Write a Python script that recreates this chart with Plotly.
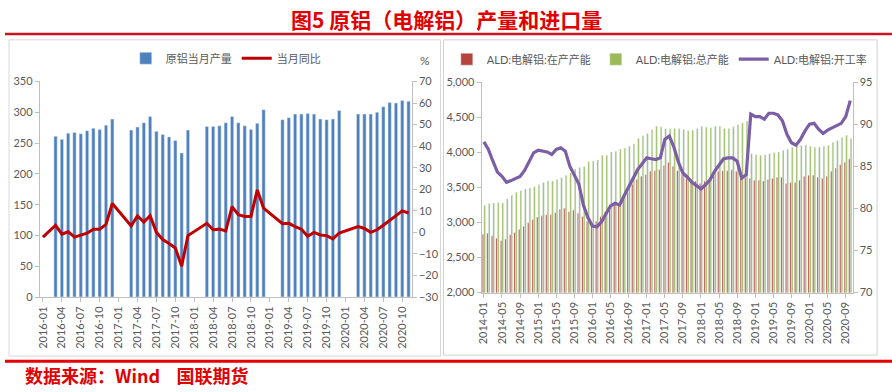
import plotly.graph_objects as go

# ---------------- data: left panel (monthly primary aluminium output) ----------------
left_months = [f"{y}-{m:02d}" for y in range(2016, 2021) for m in range(1, 13)][:59]

prod = [
    None, None, 261, 256, 266, 267, 265, 270, 274, 272, 279, 289,   # 2016
    None, None, 271, 276, 283, 293, 269, 264, 260, 254, 234, 271,   # 2017
    None, None, 277, 277, 278, 283, 293, 283, 278, 272, 282, 304,   # 2018
    None, None, 288, 291, 297, 297, 298, 297, 289, 288, 289, 303,   # 2019
    None, None, 297, 297, 297, 300, 309, 316, 315, 319, 318,        # 2020
]
yoy = [
    -2.2, None, 3.3, -0.8, 0.3, -2.2, -1.2, -0.4, 1.5, 1.5, 3.7, 13.4,
    None, None, 3.0, 7.7, 4.8, 7.7, 0.0, -3.3, -5.2, -7.2, -15.7, -1.5,
    None, None, 4.2, 1.2, 1.5, 0.7, 11.9, 8.2, 7.4, 7.4, 19.7, 11.2,
    None, None, 4.0, 4.2, 2.7, 1.5, -1.8, 0.0, -1.2, -1.5, -3.0, -0.3,
    None, None, 2.7, 1.8, 0.0, 1.2, 3.3, 5.6, 7.7, 10.0, 9.0,
]

# ---------------- data: right panel (ALD capacity & operating rate) ----------------
right_months = [f"{y}-{m:02d}" for y in range(2014, 2021) for m in range(1, 13)][:82]

cap_op = [
    2832, 2845, 2808, 2772, 2739, 2762, 2822, 2855, 2900, 2946, 2993, 3038,
    3075, 3094, 3107, 3107, 3139, 3186, 3200, 3153, 3176, 3131, 3084, 3015,
    2983, 3015, 3084, 3153, 3200, 3245, 3269, 3337, 3429, 3544, 3613, 3659,
    3682, 3728, 3737, 3751, 3811, 3856, 3797, 3737, 3682, 3627, 3613, 3590,
    3553, 3590, 3613, 3682, 3728, 3737, 3737, 3751, 3728, 3705, 3645, 3627,
    3600, 3600, 3590, 3613, 3627, 3645, 3645, 3553, 3567, 3567, 3600, 3659,
    3673, 3673, 3645, 3627, 3659, 3728, 3774, 3820, 3856, 3903,
]
cap_total = [
    3245, 3269, 3277, 3282, 3277, 3337, 3383, 3429, 3452, 3475, 3489, 3507,
    3535, 3567, 3590, 3590, 3613, 3636, 3673, 3705, 3760, 3783, 3797, 3866,
    3875, 3889, 3958, 3958, 4004, 4013, 4041, 4059, 4086, 4118, 4197, 4234,
    4270, 4325, 4372, 4362, 4335, 4335, 4339, 4339, 4325, 4307, 4316, 4335,
    4372, 4358, 4348, 4372, 4372, 4339, 4339, 4362, 4394, 4418, 4441, 3980,
    3966, 3958, 3966, 3980, 3994, 4004, 4027, 4041, 4073, 4086, 4096, 4105,
    4086, 4073, 4073, 4086, 4096, 4142, 4165, 4211, 4243, 4197,
]
rate = [
    87.9, 87.0, 85.6, 84.3, 83.8, 83.1, 83.3, 83.6, 83.8, 84.5, 85.6, 86.6,
    86.9, 86.8, 86.7, 86.4, 87.0, 87.2, 86.8, 85.0, 84.0, 82.9, 80.4, 78.9,
    77.9, 77.8, 78.4, 79.4, 80.3, 80.6, 80.4, 81.5, 82.5, 83.5, 84.6, 85.3,
    86.0, 85.9, 85.8, 86.0, 88.2, 88.6, 87.3, 85.5, 84.2, 83.7, 83.1, 82.7,
    82.3, 82.8, 83.4, 84.4, 85.2, 85.9, 86.0, 86.0, 85.6, 83.6, 84.0, 91.2,
    90.9, 90.9, 90.6, 91.3, 91.3, 91.1, 90.4, 88.8, 87.8, 87.5, 88.2, 89.2,
    90.0, 90.1, 89.4, 88.9, 89.3, 89.6, 89.8, 90.1, 90.9, 92.8,
]

W, H = 892, 392
def px(x): return x / W
def py(y): return 1 - y / H

GRAY = "#595959"
AXC = "#bfbfbf"
FONT = "Lato, 'Noto Sans CJK SC', sans-serif"

fig = go.Figure()
fig.add_trace(go.Bar(x=left_months, y=prod, name="原铝当月产量", marker_color="#4f81bd",
                     width=0.52, xaxis="x", yaxis="y", legend="legend"))
fig.add_trace(go.Scatter(x=left_months, y=yoy, name="当月同比", mode="lines",
                         line=dict(color="#c00000", width=3), connectgaps=True,
                         xaxis="x", yaxis="y2", legend="legend"))
fig.add_trace(go.Bar(x=right_months, y=cap_op, name="ALD:电解铝:在产产能", marker_color="#b5453c",
                     xaxis="x2", yaxis="y3", legend="legend2", offsetgroup="a"))
fig.add_trace(go.Bar(x=right_months, y=cap_total, name="ALD:电解铝:总产能", marker_color="#9bbb59",
                     xaxis="x2", yaxis="y3", legend="legend2", offsetgroup="b"))
fig.add_trace(go.Scatter(x=right_months, y=rate, name="ALD:电解铝:开工率", mode="lines",
                         line=dict(color="#7b5ea3", width=3.2),
                         xaxis="x2", yaxis="y4", legend="legend2"))

axis_common = dict(showline=True, linecolor=AXC, linewidth=1, ticks="outside", ticklen=4,
                   tickcolor=AXC, showgrid=False, zeroline=False,
                   tickfont=dict(size=11, color=GRAY, family=FONT))

fig.update_layout(
    width=W, height=H, autosize=False,
    margin=dict(l=0, r=0, t=0, b=0),
    paper_bgcolor="white", plot_bgcolor="white",
    font=dict(family=FONT, color=GRAY, size=11),
    barmode="group", bargap=0.3, bargroupgap=0.0,
    xaxis=dict(domain=[px(35), px(409)], anchor="y", type="category",
               range=[-0.5, 58.5], tickmode="array", tickvals=left_months[::3],
               tickangle=-90, **axis_common),
    yaxis=dict(domain=[py(300), py(77)], anchor="x", range=[0, 350], dtick=50, **axis_common),
    yaxis2=dict(overlaying="y", side="right", anchor="x", range=[-30, 70], dtick=10, **axis_common),
    xaxis2=dict(domain=[px(479.3), px(852.3)], anchor="y3", type="category",
                range=[-0.5, 81.5], tickmode="array", tickvals=right_months[::4],
                tickangle=-90, **axis_common),
    yaxis3=dict(domain=[py(295.3), py(77.7)], anchor="x2", range=[2000, 5000], dtick=500,
                tickformat=",", **axis_common),
    yaxis4=dict(overlaying="y3", side="right", anchor="x2", range=[70, 95], dtick=5, **axis_common),
    legend=dict(orientation="h", x=px(222), xanchor="center", y=py(53), yanchor="middle",
                font=dict(size=11, color=GRAY), bgcolor="rgba(0,0,0,0)", itemwidth=30,
                traceorder="normal"),
    legend2=dict(orientation="h", x=px(658), xanchor="center", y=py(54), yanchor="middle",
                 font=dict(size=11, color=GRAY), bgcolor="rgba(0,0,0,0)", itemwidth=30,
                 traceorder="normal"),
    showlegend=True,
)

shapes = [
    dict(type="rect", xref="paper", yref="paper", x0=px(4), x1=px(438), y0=py(361), y1=py(34),
         line=dict(color="#d9d9d9", width=1)),
    dict(type="rect", xref="paper", yref="paper", x0=px(441), x1=px(877), y0=py(360), y1=py(34),
         line=dict(color="#d0d0d0", width=1)),
    dict(type="line", xref="paper", yref="paper", x0=0, x1=1, y0=py(28), y1=py(28),
         line=dict(color="#c8161d", width=2.5)),
    dict(type="line", xref="paper", yref="paper", x0=0, x1=1, y0=py(366.3), y1=py(366.3),
         line=dict(color="#e60000", width=3)),
]
fig.update_layout(shapes=shapes)

fig.add_annotation(text="<b>图5 原铝（电解铝）产量和进口量</b>", xref="paper", yref="paper",
                   x=px(443.5), y=py(12), xanchor="center", yanchor="middle", showarrow=False,
                   font=dict(size=21, color="#e00000", family="'Noto Sans CJK SC'"))
fig.add_annotation(text="%", xref="paper", yref="paper", x=px(422), y=py(55),
                   xanchor="center", yanchor="middle", showarrow=False,
                   font=dict(size=12, color=GRAY))
fig.add_annotation(text="<b>数据来源：Wind&nbsp;&nbsp;&nbsp;&nbsp;国联期货</b>", xref="paper", yref="paper",
                   x=px(18), y=py(381), xanchor="left", yanchor="middle", showarrow=False,
                   font=dict(size=18, color="#e00000", family="'Noto Sans CJK SC'"))

# remove the browser's default 8px body margin so the 892x392 figure fills the window exactly
fig.write_html("out.html", config={"displayModeBar": False},
               post_script="document.body.style.margin='0';document.body.style.overflow='hidden';")
